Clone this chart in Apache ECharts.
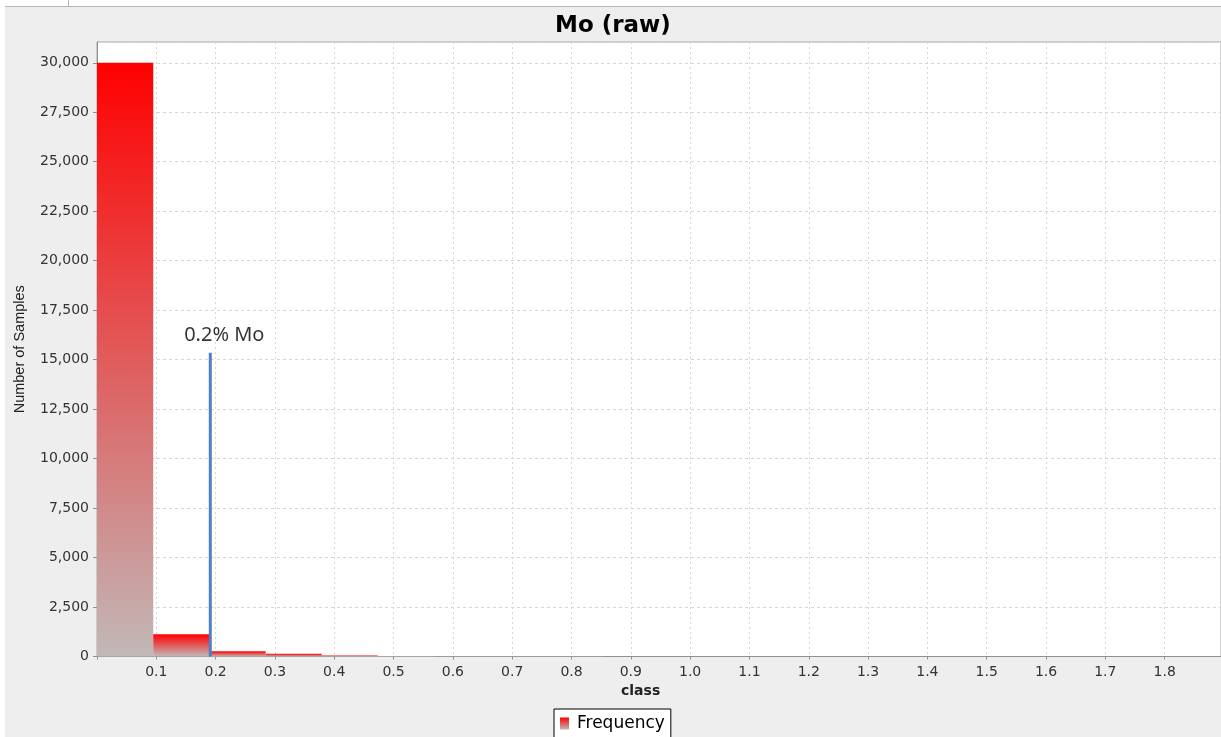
<!DOCTYPE html>
<html>
<head>
<meta charset="utf-8">
<title>Mo (raw)</title>
<script src="https://cdn.jsdelivr.net/npm/echarts@6/dist/echarts.min.js"></script>
<style>
  html, body { margin: 0; padding: 0; background: #ffffff; }
  #chart { width: 1221px; height: 737px; }
</style>
</head>
<body>
<div id="chart"></div>
<script>
// Histogram of raw Mo assays: bin edges (class) and sample counts per bin
const BIN_EDGES = [0, 0.0948, 0.1895, 0.2843, 0.379, 0.4738, 0.5685, 0.6633, 0.758, 0.8528,
                   0.9475, 1.0423, 1.137, 1.2318, 1.3265, 1.4213, 1.516, 1.6108, 1.7055, 1.8003, 1.895];
const FREQUENCY = [30000, 1120, 260, 140, 55, 30, 18, 12, 8, 6,
                   5, 4, 3, 3, 2, 2, 2, 1, 1, 1];

// 0.2% Mo cut-off marker
const CUTOFF_X = 0.191;
const CUTOFF_TOP = 15350;
const CUTOFF_LABEL = '0.2% Mo';

const X_MIN = 0, X_MAX = 1.895, X_STEP = 0.1;
const Y_MIN = 0, Y_MAX = 31050, Y_STEP = 2500;

const bins = FREQUENCY.map((n, i) => [BIN_EDGES[i], BIN_EDGES[i + 1], n]);

const barFill = () => new echarts.graphic.LinearGradient(0, 0, 0, 1, [
  { offset: 0, color: '#ff0000' },
  { offset: 1, color: '#c2b8b8' }
]);

const chart = echarts.init(document.getElementById('chart'), null, { renderer: 'canvas' });

const AXIS_FONT = 'DejaVu Sans';

chart.setOption({
  animation: false,
  backgroundColor: '#eeeeee',
  title: {
    text: 'Mo (raw)',
    left: 555,
    top: 15,
    padding: 0,
    textStyle: { fontFamily: AXIS_FONT, fontWeight: 'bold', fontSize: 23, color: '#000000' }
  },
  legend: {
    left: 554,
    top: 709,
    padding: [6, 6, 6, 6],
    backgroundColor: '#ffffff',
    borderColor: '#000000',
    borderWidth: 1,
    borderRadius: 0,
    itemWidth: 9,
    itemHeight: 12,
    textStyle: { fontFamily: AXIS_FONT, fontSize: 17, color: '#000000', padding: [0, 0, 0, 3] },
    data: [{ name: 'Frequency', icon: 'rect', itemStyle: { color: barFill() } }]
  },
  grid: {
    left: 97, right: 0, top: 42, bottom: 80.5,
    outerBoundsMode: 'none',
    containLabel: false,
    show: true,
    backgroundColor: '#ffffff',
    borderColor: '#a8a8a8',
    borderWidth: 1
  },
  xAxis: {
    type: 'value',
    min: X_MIN, max: X_MAX, interval: X_STEP,
    axisLine: { show: true, lineStyle: { color: '#909090' } },
    axisTick: { show: true, length: 3, lineStyle: { color: '#909090' } },
    axisLabel: {
      margin: 9,
      fontFamily: AXIS_FONT, fontSize: 14, color: '#333333',
      showMaxLabel: false,
      formatter: v => (v === 0 || Math.abs(v - X_MAX) < 1e-9) ? '' : v.toFixed(1)
    },
    splitLine: { show: true, lineStyle: { color: '#d6d6d6', type: [2, 3] } }
  },
  yAxis: {
    type: 'value',
    min: Y_MIN, max: Y_MAX, interval: Y_STEP,
    name: 'Number of Samples',
    nameLocation: 'middle',
    nameGap: 70,
    nameTextStyle: { fontFamily: 'Liberation Sans', fontSize: 14.5, color: '#222222' },
    axisLine: { show: true, lineStyle: { color: '#909090' } },
    axisTick: { show: true, length: 4, lineStyle: { color: '#909090' } },
    axisLabel: {
      margin: 8,
      fontFamily: AXIS_FONT, fontSize: 14, color: '#333333',
      showMaxLabel: false,
      formatter: v => v > Y_MAX - 1 ? '' : v.toLocaleString('en-US')
    },
    splitLine: { show: true, lineStyle: { color: '#d6d6d6', type: [3, 3] } }
  },
  graphic: [
    { type: 'rect', shape: { x: 0, y: 0, width: 1221, height: 6 }, style: { fill: '#ffffff' }, silent: true },
    { type: 'rect', shape: { x: 0, y: 0, width: 5, height: 737 }, style: { fill: '#ffffff' }, silent: true },
    { type: 'line', shape: { x1: 5, y1: 6.5, x2: 1221, y2: 6.5 }, style: { stroke: '#b4b4b4', lineWidth: 1 }, silent: true },
    { type: 'line', shape: { x1: 68.5, y1: 0, x2: 68.5, y2: 6 }, style: { stroke: '#b4b4b4', lineWidth: 1 }, silent: true },
    {
      type: 'text', left: 621, top: 684, silent: true,
      style: { text: 'class', fontFamily: AXIS_FONT, fontWeight: 'bold', fontSize: 14, fill: '#222222' }
    }
  ],
  series: [
    {
      name: 'Frequency',
      type: 'custom',
      data: bins,
      encode: { x: [0, 1], y: 2 },
      renderItem: (params, api) => {
        const topLeft = api.coord([api.value(0), api.value(2)]);
        const bottomRight = api.coord([api.value(1), 0]);
        return {
          type: 'rect',
          shape: {
            x: topLeft[0],
            y: topLeft[1],
            width: bottomRight[0] - topLeft[0],
            height: bottomRight[1] - topLeft[1]
          },
          style: { fill: barFill() }
        };
      },
      z: 2
    },
    {
      name: 'cutoff',
      type: 'line',
      data: [[CUTOFF_X, 0], [CUTOFF_X, CUTOFF_TOP]],
      symbol: 'none',
      lineStyle: { color: '#4f7fc4', width: 3 },
      z: 3
    },
    {
      name: 'cutoffLabel',
      type: 'scatter',
      data: [[CUTOFF_X, CUTOFF_TOP]],
      symbolSize: 0,
      label: {
        show: true,
        position: 'top',
        distance: 4,
        offset: [14, -3],
        formatter: CUTOFF_LABEL,
        fontFamily: 'Noto Sans',
        fontSize: 20,
        color: '#000000'
      },
      z: 4
    }
  ]
});
</script>
</body>
</html>
